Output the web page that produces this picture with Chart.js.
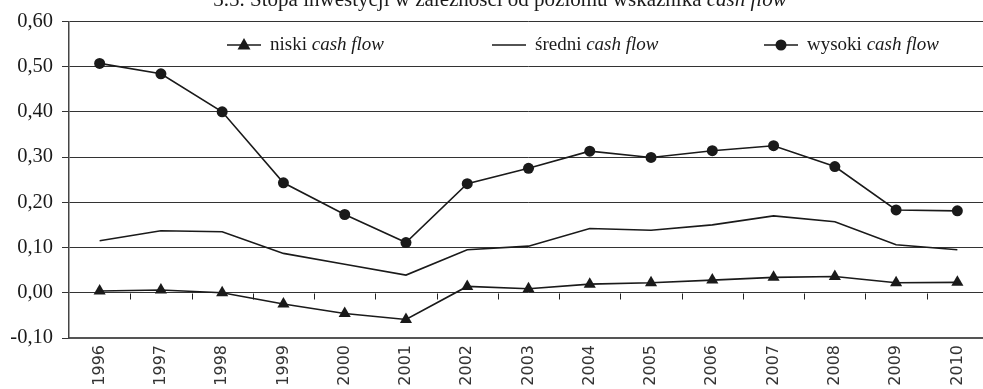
<!DOCTYPE html>
<html>
<head>
<meta charset="utf-8">
<script src="https://cdn.jsdelivr.net/npm/chart.js@4.4.1/dist/chart.umd.min.js"></script>
<style>
  html, body { margin: 0; padding: 0; background: #fff; overflow: hidden; }
  #wrap { position: relative; width: 983px; height: 389px; overflow: hidden; }
  #c { position: absolute; left: 0; top: 0; }
</style>
</head>
<body>
<div id="wrap"><canvas id="c" width="995" height="389"></canvas></div>
<script>
// Lata i stopa inwestycji w trzech grupach przedsiębiorstw
const years = ['1996','1997','1998','1999','2000','2001','2002','2003','2004','2005','2006','2007','2008','2009','2010'];
const niski  = [0.004, 0.006, 0.000, -0.025, -0.046, -0.059, 0.014, 0.009, 0.019, 0.022, 0.028, 0.034, 0.036, 0.022, 0.023];
const sredni = [0.115, 0.137, 0.135, 0.087, 0.063, 0.039, 0.095, 0.103, 0.142, 0.138, 0.150, 0.170, 0.157, 0.106, 0.095];
const wysoki = [0.507, 0.484, 0.400, 0.243, 0.173, 0.111, 0.241, 0.275, 0.313, 0.299, 0.314, 0.325, 0.279, 0.183, 0.181];
const yMin = -0.10, yMax = 0.60, yStep = 0.10;

const titleText = ['3.5. Stopa inwestycji w zależności od poziomu wskaźnika ', 'cash flow'];
const legendItems = [
  { name: 'niski ',  style: 'triangle' },
  { name: 'średni ', style: 'none' },
  { name: 'wysoki ', style: 'circle' }
];
const legendSuffix = 'cash flow';

const SERIF = '"Liberation Serif", "DejaVu Serif", serif';
const SANS = '"DejaVu Sans", sans-serif';
const INK = '#1a1a1a';

// Tytuł (przycięty u góry), legenda w polu wykresu i krótkie znaczniki na osi zera
const decorations = {
  id: 'decorations',
  beforeDatasetsDraw(chart) {
    const { ctx, chartArea, scales } = chart;
    const x = scales.x, y = scales.y;
    ctx.save();
    // linie siatki przedłużone do krawędzi płótna
    ctx.strokeStyle = '#333';
    ctx.lineWidth = 1;
    y.ticks.forEach(t => {
      const py = Math.round(y.getPixelForValue(t.value)) + 0.5;
      ctx.beginPath();
      ctx.moveTo(chartArea.right, py);
      ctx.lineTo(chart.width, py);
      ctx.stroke();
    });
    // znaczniki między latami na linii zera
    const y0 = Math.round(y.getPixelForValue(0)) + 0.5;
    ctx.strokeStyle = '#222';
    for (let i = 0; i < years.length - 1; i++) {
      const px = Math.round((x.getPixelForValue(i) + x.getPixelForValue(i + 1)) / 2) + 0.5;
      ctx.beginPath();
      ctx.moveTo(px, y0);
      ctx.lineTo(px, y0 + 6);
      ctx.stroke();
    }
    ctx.restore();
  },
  afterDraw(chart) {
    const { ctx } = chart;
    ctx.save();
    ctx.fillStyle = INK;
    ctx.textBaseline = 'alphabetic';
    // tytuł
    const fRegular = '21px ' + SERIF, fItalic = 'italic 21px ' + SERIF;
    ctx.font = fRegular;
    const w1 = ctx.measureText(titleText[0]).width;
    ctx.font = fItalic;
    const w2 = ctx.measureText(titleText[1]).width;
    let tx = 500 - (w1 + w2) / 2;
    ctx.font = fRegular; ctx.textAlign = 'left';
    ctx.fillText(titleText[0], tx, 6);
    ctx.font = fItalic;
    ctx.fillText(titleText[1], tx + w1, 6);

    // legenda
    const lx = [227, 492, 764];
    const ly = 45;
    legendItems.forEach((it, i) => {
      const x0 = lx[i], x1 = x0 + 34;
      ctx.strokeStyle = INK; ctx.lineWidth = 1.6;
      ctx.beginPath(); ctx.moveTo(x0, ly); ctx.lineTo(x1, ly); ctx.stroke();
      const cx = (x0 + x1) / 2;
      if (it.style === 'circle') {
        ctx.beginPath(); ctx.arc(cx, ly, 5.5, 0, Math.PI * 2); ctx.fill();
      } else if (it.style === 'triangle') {
        ctx.beginPath();
        ctx.moveTo(cx, ly - 7); ctx.lineTo(cx + 6.5, ly + 4.5); ctx.lineTo(cx - 6.5, ly + 4.5);
        ctx.closePath(); ctx.fill();
      }
      ctx.font = '19px ' + SERIF;
      ctx.textBaseline = 'middle';
      const tx0 = x1 + 9;
      ctx.fillText(it.name, tx0, ly);
      const wn = ctx.measureText(it.name).width;
      ctx.font = 'italic 19px ' + SERIF;
      ctx.fillText(legendSuffix, tx0 + wn, ly);
    });
    ctx.restore();
  }
};

new Chart(document.getElementById('c'), {
  type: 'line',
  data: {
    labels: years,
    datasets: [
      {
        label: 'niski cash flow', data: niski,
        borderColor: INK, backgroundColor: INK, borderWidth: 1.6,
        pointStyle: 'triangle', pointRadius: 7, pointBorderWidth: 0,
        tension: 0
      },
      {
        label: 'średni cash flow', data: sredni,
        borderColor: INK, backgroundColor: INK, borderWidth: 1.6,
        pointRadius: 0, tension: 0
      },
      {
        label: 'wysoki cash flow', data: wysoki,
        borderColor: INK, backgroundColor: INK, borderWidth: 1.6,
        pointStyle: 'circle', pointRadius: 5.5, pointBorderWidth: 0,
        tension: 0
      }
    ]
  },
  options: {
    responsive: false,
    animation: false,
    devicePixelRatio: 1,
    layout: { padding: { top: 20, right: 7, left: 0, bottom: 0 } },
    plugins: { legend: { display: false }, title: { display: false }, tooltip: { enabled: false } },
    scales: {
      x: {
        type: 'category',
        offset: true,
        grid: { display: false, drawTicks: false },
        border: { display: true, color: '#555', width: 2 },
        ticks: {
          minRotation: 90, maxRotation: 90, autoSkip: false,
          padding: 7, color: '#333',
          font: { family: SANS, size: 16 }
        },
        afterFit(s) { s.height = 51; }
      },
      y: {
        min: yMin, max: yMax,
        grid: { color: '#333', lineWidth: 1, tickLength: 7, tickColor: '#333' },
        border: { display: true, color: '#444', width: 1.5 },
        ticks: {
          stepSize: yStep, padding: 9, color: INK,
          font: { family: SERIF, size: 20.5 },
          callback: v => (Math.round(v * 100) / 100).toFixed(2).replace('.', ',')
        },
        afterFit(s) { s.width = 69; }
      }
    }
  },
  plugins: [decorations]
});
</script>
</body>
</html>
